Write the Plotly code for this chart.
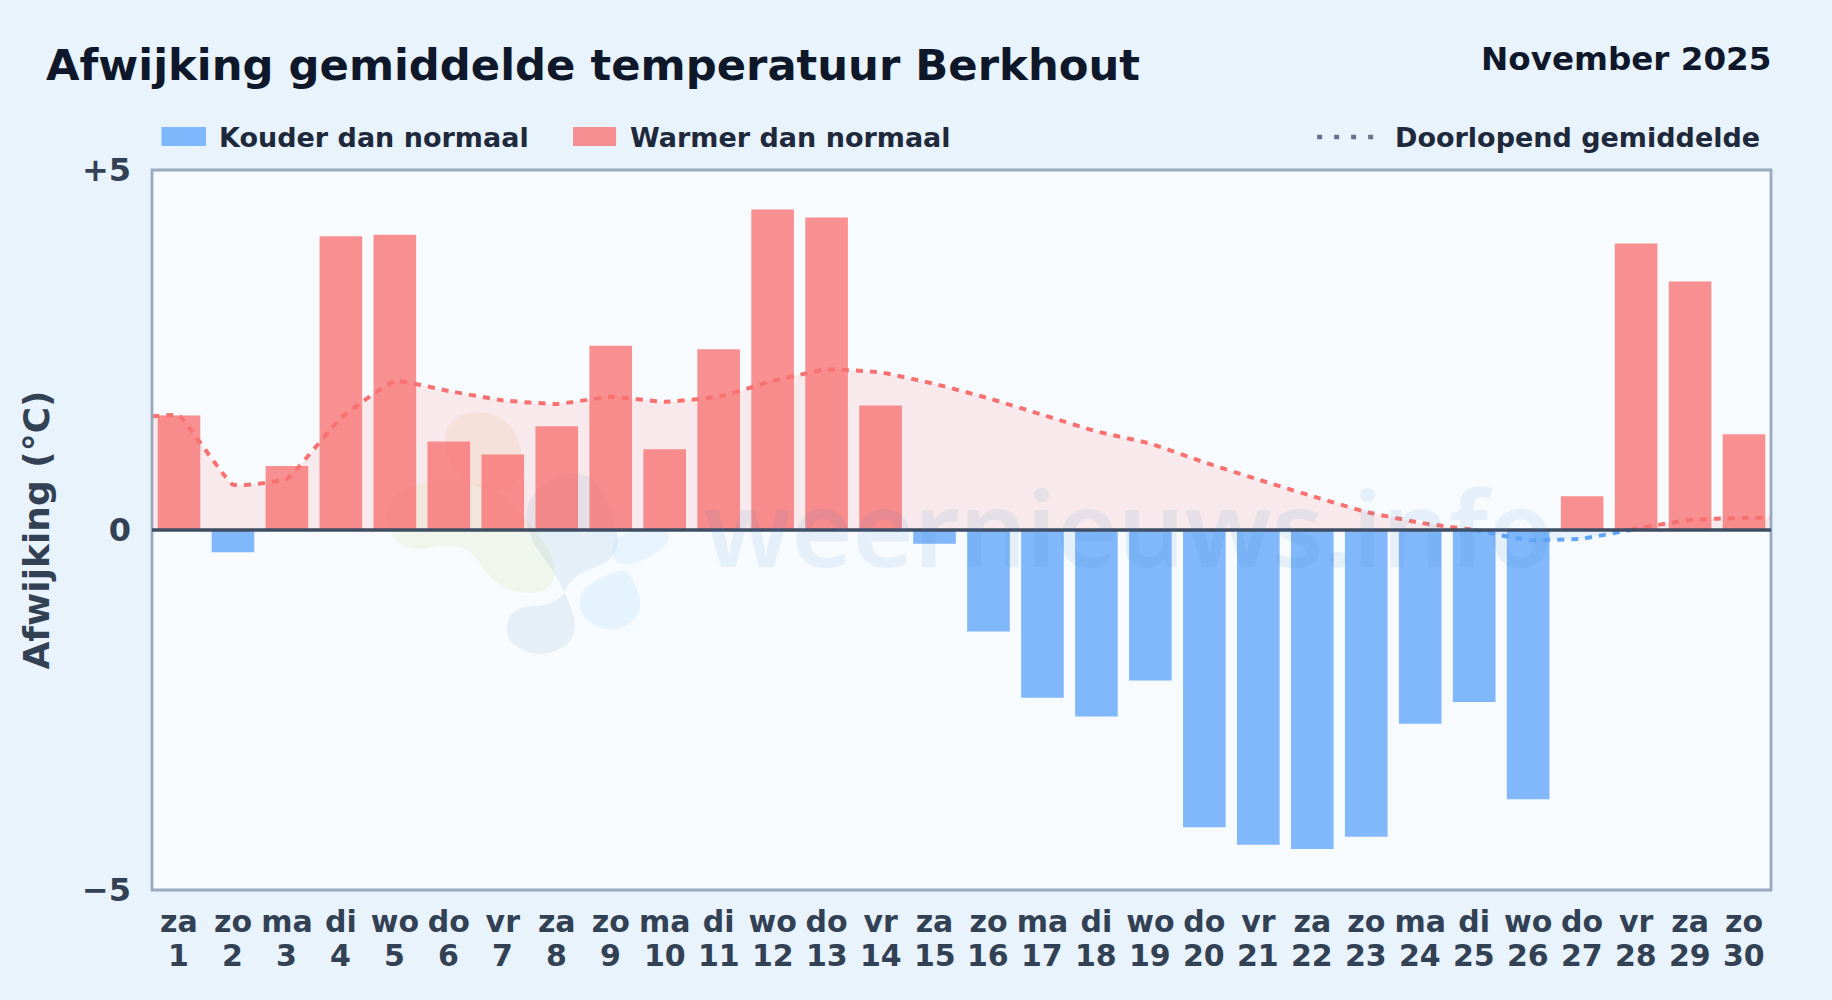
import plotly.graph_objects as go

W, H = 1832, 1000
L, R, T, B = 152.0, 1770.8, 170.0, 890.5
FONT = "DejaVu Sans"

weekdays = ["za","zo","ma","di","wo","do","vr","za","zo","ma","di","wo","do","vr","za",
            "zo","ma","di","wo","do","vr","za","zo","ma","di","wo","do","vr","za","zo"]
days = list(range(1, 31))
deviation = [1.59,-0.31,0.89,4.08,4.10,1.23,1.05,1.44,2.56,1.12,2.51,4.45,4.34,1.73,-0.19,
             -1.41,-2.33,-2.59,-2.09,-4.13,-4.37,-4.43,-4.26,-2.69,-2.39,-3.74,0.47,3.98,3.45,1.33]
# running mean
mean_warm_x1 = [0.5,1,2,3,4,5,6,7,8,9,10,11,12,13,14,15,16,17,18,19,20,21,22,23,24,25]
mean_warm_y1 = [1.58,1.59,0.63,0.71,1.56,2.07,1.93,1.80,1.75,1.85,1.78,1.85,2.07,2.23,2.19,2.03,
                1.83,1.60,1.37,1.20,0.94,0.70,0.47,0.25,0.10,0.0]
mean_cold_x = [25,26,27,27.9]
mean_cold_y = [0.0,-0.14,-0.12,0.0]
mean_warm_x2 = [27.9,28,29,30,30.5]
mean_warm_y2 = [0.0,0.02,0.14,0.17,0.17]

RED, BLUE = "#f87171", "#60a5fa"
warm_x = [d for d, v in zip(days, deviation) if v >= 0]
warm_y = [v for v in deviation if v >= 0]
cold_x = [d for d, v in zip(days, deviation) if v < 0]
cold_y = [v for v in deviation if v < 0]

fig = go.Figure()
fig.add_bar(x=warm_x, y=warm_y, name="Warmer dan normaal", marker=dict(color=RED, opacity=0.78, line_width=0), width=0.79)
fig.add_bar(x=cold_x, y=cold_y, name="Kouder dan normaal", marker=dict(color=BLUE, opacity=0.78, line_width=0), width=0.79)
for x, y, c, f in [(mean_warm_x1, mean_warm_y1, RED, "rgba(248,113,113,0.13)"),
                   (mean_cold_x, mean_cold_y, BLUE, "rgba(96,165,250,0.10)"),
                   (mean_warm_x2, mean_warm_y2, RED, "rgba(248,113,113,0.13)")]:
    fig.add_scatter(x=x, y=y, mode="lines", name="Doorlopend gemiddelde", fill="tozeroy", fillcolor=f,
                    line=dict(color=c, width=4, dash="7px,7px", shape="spline", smoothing=0.3))

def px(x): return (x - L) / (R - L)
def py(y): return (B - y) / (B - T)

S = 1832 / 1568
def blob(points, color):
    pts = [(px(a * S), py(b * S)) for a, b in points]
    n = len(pts)
    mid = lambda p, q: ((p[0] + q[0]) / 2, (p[1] + q[1]) / 2)
    start = mid(pts[-1], pts[0])
    path = f"M{start[0]},{start[1]}"
    for i in range(n):
        m = mid(pts[i], pts[(i + 1) % n])
        path += f" Q{pts[i][0]},{pts[i][1]} {m[0]},{m[1]}"
    return dict(type="path", path=path + " Z", xref="paper", yref="paper", layer="below",
                fillcolor=color, line_width=0)

shapes = [
    blob([(326,440),(345,475),(398,462),(425,505),(470,510),(478,480),(440,430),(400,408),(345,415)], "rgba(190,215,110,0.12)"),
    blob([(382,360),(412,350),(442,365),(450,405),(430,425),(395,412),(380,388)], "rgba(240,190,110,0.14)"),
    blob([(460,412),(505,400),(530,450),(527,480),(490,492),(478,518),(436,520),(432,550),(465,564),(497,545),(482,500),(445,450)], "rgba(60,120,190,0.09)"),
    blob([(495,505),(528,488),(540,490),(552,525),(525,543),(497,530)], "rgba(110,190,250,0.13)"),
    blob([(528,455),(575,452),(570,470),(540,485),(522,480)], "rgba(110,190,250,0.10)"),
    # plot border
    dict(type="rect", xref="paper", yref="paper", x0=0, x1=1, y0=0, y1=1, line=dict(color="#9aa9bd", width=2.8), layer="above"),
    # zero line
    dict(type="line", xref="paper", yref="y", x0=0, x1=1, y0=0, y1=0, line=dict(color="#3f4d63", width=3.5), layer="above"),
    # legend swatches
    dict(type="rect", xref="paper", yref="paper", x0=px(161.5), x1=px(206), y0=py(146), y1=py(127),
         fillcolor=BLUE, opacity=0.78, line_width=0),
    dict(type="rect", xref="paper", yref="paper", x0=px(573), x1=px(616), y0=py(146), y1=py(127),
         fillcolor=RED, opacity=0.78, line_width=0),
    dict(type="line", xref="paper", yref="paper", x0=px(1317), x1=px(1375), y0=py(137), y1=py(137),
         line=dict(color="#64748b", width=4.5, dash="5px,12px")),
]

def note(text, x, y, size, color, anchor="left", **kw):
    return dict(text=text, xref="paper", yref="paper", x=px(x), y=py(y), xanchor=anchor, yanchor="middle",
                showarrow=False, font=dict(family=FONT, size=size, color=color, weight="bold"), **kw)

tick_font = dict(family=FONT, size=30, color="#334155", weight="bold")
annotations = [
    note("November 2025", 1773, 59, 32.6, "#0f172a", "right"),
    note("Kouder dan normaal", 217, 137, 27, "#1e293b"),
    note("Warmer dan normaal", 628, 137, 27, "#1e293b"),
    note("Doorlopend gemiddelde", 1393, 137, 27, "#1e293b"),
    dict(text="weernieuws.info", xref="paper", yref="paper", x=px(1128), y=py(527), xanchor="center", yanchor="middle",
         showarrow=False, font=dict(family="Noto Sans", size=105, color="rgba(59,120,200,0.09)", weight=600)),
]
annotations += [dict(text=str(d), xref="x", yref="paper", x=d, y=py(956.5), xanchor="center", yanchor="middle",
                     showarrow=False, font=tick_font) for d in days]

fig.update_layout(
    width=W, height=H, autosize=False, showlegend=False, barmode="overlay",
    margin=dict(l=L, r=W - R, t=T, b=H - B, pad=0),
    paper_bgcolor="#e9f3fc", plot_bgcolor="#f7fbfe",
    title=dict(text="Afwijking gemiddelde temperatuur Berkhout", x=46 / W, xref="container", xanchor="left",
               y=1 - 65 / H, yref="container", yanchor="middle",
               font=dict(family=FONT, size=43.3, color="#0f172a", weight="bold")),
    shapes=shapes, annotations=annotations,
    xaxis=dict(range=[0.5, 30.5], tickmode="array", tickvals=days, ticktext=weekdays,
               tickangle=0, ticks="", showgrid=False, zeroline=False, ticklabelstandoff=11,
               showline=False, tickfont=tick_font),
    yaxis=dict(range=[-5, 5], tickmode="array", tickvals=[-5, 0, 5], ticktext=["−5", "0", "+5"],
               ticks="", showgrid=False, zeroline=False, ticklabelstandoff=20,
               showline=False,
               tickfont=dict(family=FONT, size=32, color="#334155", weight="bold"),
               title=dict(text="Afwijking (°C)", standoff=21,
                          font=dict(family=FONT, size=36, color="#334155", weight="bold"))),
)

fig.write_html("out.html", config=dict(displayModeBar=False),
               post_script="document.body.style.margin='0';document.body.style.overflow='hidden';")
